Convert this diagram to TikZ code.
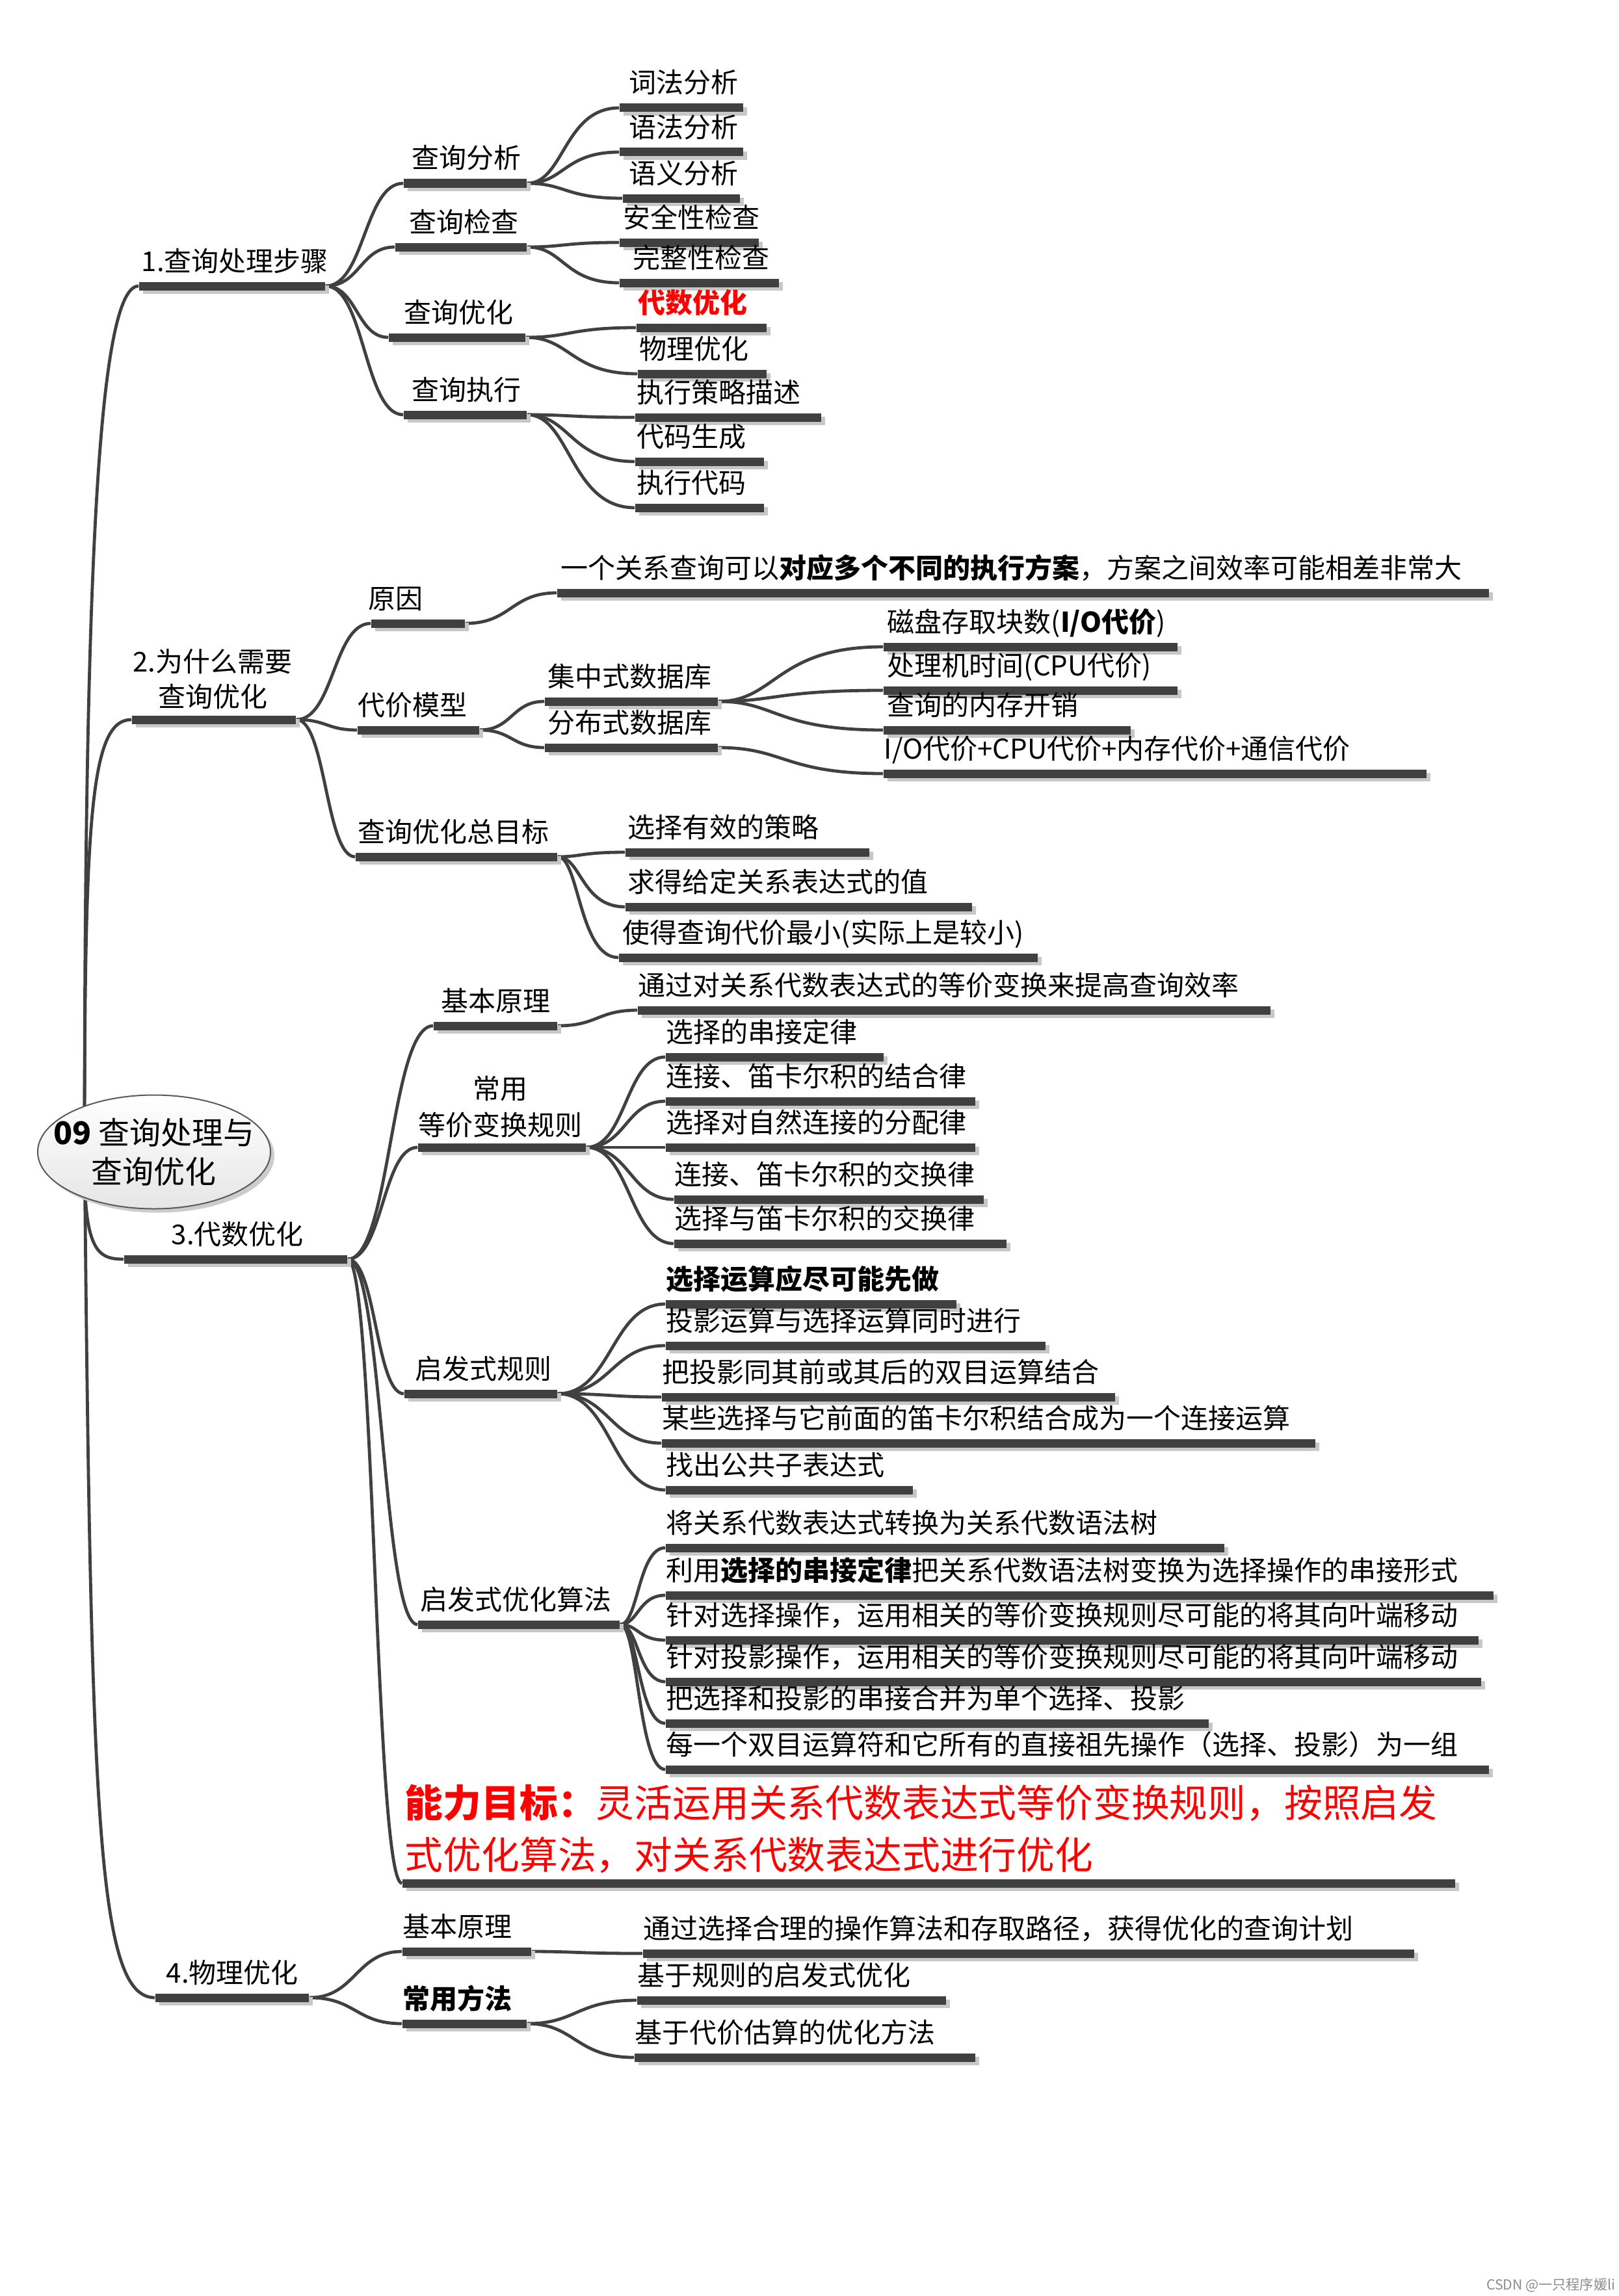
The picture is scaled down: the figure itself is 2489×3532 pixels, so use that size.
\documentclass[tikz,border=0pt]{standalone}
\usepackage{fontspec}
\setmainfont{Noto Sans CJK SC}
\usetikzlibrary{calc,shadows,shapes.geometric,backgrounds}
\definecolor{barc}{HTML}{404040}
\definecolor{linec}{HTML}{404040}
\tikzset{
  bar/.style={fill=barc, draw=none, inner sep=0pt, minimum height=3.25pt,
    drop shadow={shadow xshift=1.6pt, shadow yshift=-1.3pt, fill=black!22, opacity=1}},
  lbl/.style={inner sep=0pt, anchor=base west, font=\fontsize{10.5}{12}\selectfont},
  clbl/.style={inner sep=0pt, anchor=base, font=\fontsize{10.5}{12}\selectfont},
  conn/.style={draw=linec, line width=1.2pt},
}
\newcommand\mnode[6]{%
  \node[bar, minimum width={(#3-#2)*0.25pt}] (#1) at ({(#2+#3)/2},#4) {};
  \node[lbl] (#1t) at (#5,{#4-23}) {#6};}
\newcommand\mconn[3][0.45]{%
  \draw[conn] (#2.east) .. controls ($(#2.east)!#1!(#2.east -| #3.west)$) and ($(#3.west)!1-#1!(#3.west -| #2.east)$) .. (#3.west);}
\begin{document}
\begin{tikzpicture}[x=0.25pt,y=-0.25pt]
\useasboundingbox (0,0) rectangle (2489,3532);
\begin{scope}[on background layer]
\fill[white] (0,0) rectangle (2489,3532);
\end{scope}

% root
\node[ellipse, draw=black!65, line width=0.5pt, top color=white, bottom color=black!10,
  minimum width=89.5pt, minimum height=43.75pt, inner sep=0pt,
  drop shadow={shadow xshift=1.5pt, shadow yshift=-1.5pt, fill=black!20, opacity=1}] (root) at (237,1772) {};
\node[inner sep=0pt, align=center, font=\fontsize{12}{15}\selectfont] (roott) at (root.center) {\textbf{09} 查询处理与\\查询优化};
\coordinate (rootc) at (130,1772);

% section 1
\mnode{n1}{214}{500}{440}{217}{1.查询处理步骤}
\mnode{a1}{621}{810}{282}{633}{查询分析}
\mnode{a2}{608}{810}{380}{629}{查询检查}
\mnode{a3}{598}{808}{519}{621}{查询优化}
\mnode{a4}{621}{810}{638}{633}{查询执行}
\mnode{a11}{953}{1143}{166}{967}{词法分析}
\mnode{a12}{953}{1143}{234}{967}{语法分析}
\mnode{a13}{958}{1138}{305}{967}{语义分析}
\mnode{a21}{953}{1167}{373}{958}{安全性检查}
\mnode{a22}{953}{1198}{435}{973}{完整性检查}
\mnode{a31}{979}{1179}{504}{981}{\color{red}\bfseries 代数优化}
\mnode{a32}{981}{1179}{575}{983}{物理优化}
\mnode{a41}{977}{1263}{642}{979}{执行策略描述}
\mnode{a42}{977}{1175}{710}{979}{代码生成}
\mnode{a43}{977}{1175}{781}{979}{执行代码}

% section 2
\node[bar, minimum width={(455-203)*0.25pt}] (n2) at (329,1107) {};
\node[clbl] (n2t) at (327,1033) {2.为什么需要};
\node[clbl] (n2u) at (327,1087) {查询优化};
\mnode{b1}{571}{715}{959}{566}{原因}
\mnode{b2}{550}{737}{1123}{550}{代价模型}
\mnode{b3}{547}{857}{1318}{550}{查询优化总目标}
\mnode{b11}{857}{2290}{912}{862}{一个关系查询可以\textbf{对应多个不同的执行方案}，方案之间效率可能相差非常大}
\mnode{b21}{838}{1104}{1079}{842}{集中式数据库}
\mnode{b22}{838}{1104}{1150}{842}{分布式数据库}
\mnode{b211}{1359}{1811}{995}{1364}{磁盘存取块数(\textbf{I/O代价})}
\mnode{b212}{1359}{1811}{1062}{1364}{处理机时间(CPU代价)}
\mnode{b213}{1359}{1739}{1123}{1364}{查询的内存开销}
\mnode{b221}{1359}{2194}{1190}{1359}{I/O代价+CPU代价+内存代价+通信代价}
\mnode{b31}{962}{1337}{1311}{965}{选择有效的策略}
\mnode{b32}{962}{1495}{1395}{965}{求得给定关系表达式的值}
\mnode{b33}{952}{1596}{1473}{957}{使得查询代价最小(实际上是较小)}

% section 3
\mnode{n3}{191}{534}{1937}{263}{3.代数优化}
\mnode{c1}{667}{857}{1578}{678}{基本原理}
\mnode{c11}{981}{1954}{1554}{981}{通过对关系代数表达式的等价变换来提高查询效率}
\node[bar, minimum width={(901-643)*0.25pt}] (c2) at (772,1765) {};
\node[clbl] (c2t) at (769,1690) {常用};
\node[clbl] (c2u) at (769,1746) {等价变换规则};
\mnode{c21}{1024}{1359}{1626}{1024}{选择的串接定律}
\mnode{c22}{1024}{1500}{1694}{1024}{连接、笛卡尔积的结合律}
\mnode{c23}{1024}{1500}{1765}{1024}{选择对自然连接的分配律}
\mnode{c24}{1037}{1513}{1845}{1037}{连接、笛卡尔积的交换律}
\mnode{c25}{1037}{1548}{1913}{1037}{选择与笛卡尔积的交换律}
\mnode{c3}{622}{857}{2144}{638}{启发式规则}
\mnode{c31}{1024}{1471}{2006}{1024}{\bfseries 选择运算应尽可能先做}
\mnode{c32}{1024}{1608}{2070}{1024}{投影运算与选择运算同时进行}
\mnode{c33}{1018}{1715}{2149}{1018}{把投影同其前或其后的双目运算结合}
\mnode{c34}{1018}{2023}{2220}{1018}{某些选择与它前面的笛卡尔积结合成为一个连接运算}
\mnode{c35}{1024}{1404}{2292}{1024}{找出公共子表达式}
\mnode{c4}{643}{953}{2499}{646}{启发式优化算法}
\mnode{c41}{1024}{1883}{2381}{1024}{将关系代数表达式转换为关系代数语法树}
\mnode{c42}{1024}{2297}{2454}{1024}{利用\textbf{选择的串接定律}把关系代数语法树变换为选择操作的串接形式}
\mnode{c43}{1024}{2274}{2523}{1024}{针对选择操作，运用相关的等价变换规则尽可能的将其向叶端移动}
\mnode{c44}{1024}{2278}{2587}{1024}{针对投影操作，运用相关的等价变换规则尽可能的将其向叶端移动}
\mnode{c45}{1024}{1859}{2651}{1024}{把选择和投影的串接合并为单个选择、投影}
\mnode{c46}{1024}{2290}{2722}{1024}{每一个双目运算符和它所有的直接祖先操作（选择、投影）为一组}
\node[bar, minimum width={(2238-619)*0.25pt}] (c5) at ({(619+2238)/2},2897) {};
\node[inner sep=0pt, anchor=base west, text=red, font=\fontsize{14.7}{20}\selectfont] (c5t) at (622,2795) {\textbf{能力目标：}灵活运用关系代数表达式等价变换规则，按照启发};
\node[inner sep=0pt, anchor=base west, text=red, font=\fontsize{14.7}{20}\selectfont] (c5u) at (622,2875) {式优化算法，对关系代数表达式进行优化};

% section 4
\mnode{n4}{239}{475}{3073}{255}{4.物理优化}
\mnode{d1}{619}{817}{3002}{619}{基本原理}
\mnode{d2}{619}{810}{3113}{619}{\bfseries 常用方法}
\mnode{d11}{989}{2175}{3005}{989}{通过选择合理的操作算法和存取路径，获得优化的查询计划}
\mnode{d21}{980}{1455}{3077}{980}{基于规则的启发式优化}
\mnode{d22}{976}{1500}{3165}{976}{基于代价估算的优化方法}

% watermark
\node[inner sep=0pt, anchor=base east, text=black!45, font=\fontsize{5.3}{6}\selectfont] (wm) at (2485,3522) {CSDN @一只程序媛li};

% connectors
\begin{scope}[on background layer]
\draw[conn] (rootc) .. controls (130,900) and (150,440) .. (n1.west);
\draw[conn] (rootc) .. controls (130,1250) and (140,1107) .. (n2.west);
\draw[conn] (rootc) .. controls (128,1925) and (150,1937) .. (n3.west);
\draw[conn] (rootc) .. controls (140,2800) and (150,3073) .. (n4.west);
\foreach \c in {a1,a2,a3,a4} {\mconn[0.5]{n1}{\c}}
\foreach \c in {a11,a12,a13} {\mconn[0.4]{a1}{\c}}
\foreach \c in {a21,a22} {\mconn[0.4]{a2}{\c}}
\foreach \c in {a31,a32} {\mconn[0.4]{a3}{\c}}
\foreach \c in {a41,a42,a43} {\mconn[0.4]{a4}{\c}}
\foreach \c in {b1,b2,b3} {\mconn[0.5]{n2}{\c}}
\mconn[0.5]{b1}{b11}
\foreach \c in {b21,b22} {\mconn[0.5]{b2}{\c}}
\foreach \c in {b211,b212,b213} {\mconn[0.35]{b21}{\c}}
\mconn[0.4]{b22}{b221}
\foreach \c in {b31,b32,b33} {\mconn[0.35]{b3}{\c}}
\foreach \c in {c1,c2,c3,c4,c5} {\mconn[0.5]{n3}{\c}}
\mconn[0.5]{c1}{c11}
\foreach \c in {c21,c22,c23,c24,c25} {\mconn[0.5]{c2}{\c}}
\foreach \c in {c31,c32,c33,c34,c35} {\mconn[0.5]{c3}{\c}}
\foreach \c in {c41,c42,c43,c44,c45,c46} {\mconn[0.4]{c4}{\c}}
\foreach \c in {d1,d2} {\mconn[0.5]{n4}{\c}}
\mconn[0.4]{d1}{d11}
\foreach \c in {d21,d22} {\mconn[0.45]{d2}{\c}}
\end{scope}
\end{tikzpicture}
\end{document}
